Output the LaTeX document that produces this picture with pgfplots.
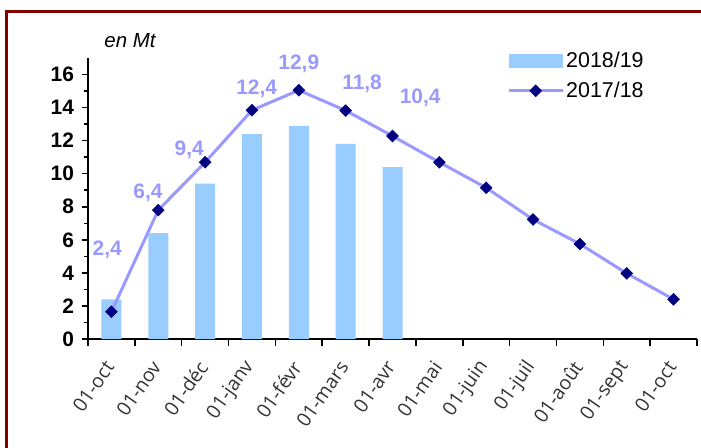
\documentclass[border=0pt]{standalone}
\usepackage{fontspec}
\setmainfont{Liberation Sans}
\newfontfamily\tickfont{Open Sans}
\usepackage{pgfplots}
\pgfplotsset{compat=1.18}

\definecolor{barblue}{HTML}{99CCFF}
\definecolor{linelilac}{HTML}{9999FF}
\definecolor{marknavy}{HTML}{000080}
\definecolor{framered}{HTML}{800000}

\begin{document}
\begin{tikzpicture}
\useasboundingbox (0,0) rectangle (701bp,448bp);
\clip (0,0) rectangle (701bp,448bp);
\draw[framered, line width=3.3bp] (6.7bp,436.3bp) rectangle (740bp,-40bp);
\begin{axis}[
    at={(88bp,109bp)}, anchor=south west,
    scale only axis, width=609bp, height=281bp,
    xmin=-0.5, xmax=12.5, ymin=0, ymax=17,
    axis x line*=bottom, axis y line*=left,
    axis line style={-, line width=1.7bp, black},
    tick align=outside,
    tick style={black, line width=1.5bp},
    major tick length=6.5bp, minor tick length=4bp,
    xtick={-0.5,0.5,...,12.5},
    x tick label as interval,
    xticklabels={01-oct,01-nov,01-déc,01-janv,01-févr,01-mars,01-avr,01-mai,01-juin,01-juil,01-août,01-sept,01-oct},
    xticklabel style={font=\tickfont\fontsize{19.5}{22}\selectfont, text=black!80, rotate=55, anchor=east},
    xticklabel shift=15bp,
    ytick={0,2,...,16}, minor y tick num=1,
    yticklabel style={font=\bfseries\fontsize{21}{24}\selectfont, xshift=-4bp},
    /pgf/number format/assume math mode=true,
    clip=false,
    legend style={at={(0.688,1.028)}, anchor=north west, draw=none, fill=none,
        font=\fontsize{21.5}{24}\selectfont, row sep=9bp, inner sep=0pt},
    legend cell align=left,
]
% 2018/19
\addplot[ybar, bar width=20bp, fill=barblue, draw=none,
    legend image code/.code={\fill[barblue] (0bp,-7bp) rectangle (54bp,7bp);}]
coordinates {
    (0,2.4) (1,6.4) (2,9.4) (3,12.4) (4,12.9) (5,11.8) (6,10.4)
};
% 2017/18
\addplot[linelilac, line width=3bp, mark=square*, mark size=4.2bp,
    mark options={rotate=45, fill=marknavy, draw=marknavy, line width=0.5bp},
    legend image code/.code={\draw[mark repeat=2,mark phase=2] plot coordinates {(0bp,0bp) (27bp,0bp) (54bp,0bp)};}]
coordinates {
    (0,1.65) (1,7.8) (2,10.69) (3,13.84) (4,15.05) (5,13.82) (6,12.28)
    (7,10.69) (8,9.15) (9,7.23) (10,5.75) (11,3.97) (12,2.4)
};
\legend{2018/19,2017/18}

\begin{scope}[every node/.style={font=\bfseries\fontsize{21}{24}\selectfont, text=linelilac, inner sep=0pt}]
\node at (axis cs:-0.09,5.41) {2,4};
\node at (axis cs:0.78,8.86) {6,4};
\node at (axis cs:1.66,11.43) {9,4};
\node at (axis cs:3.10,15.15) {12,4};
\node at (axis cs:4.00,16.64) {12,9};
\node at (axis cs:5.35,15.43) {11,8};
\node at (axis cs:6.59,14.58) {10,4};
\end{scope}
\end{axis}
\node[font=\itshape\fontsize{20.5}{24}\selectfont, anchor=base] at (130bp,400bp) {en Mt};
\end{tikzpicture}
\end{document}
